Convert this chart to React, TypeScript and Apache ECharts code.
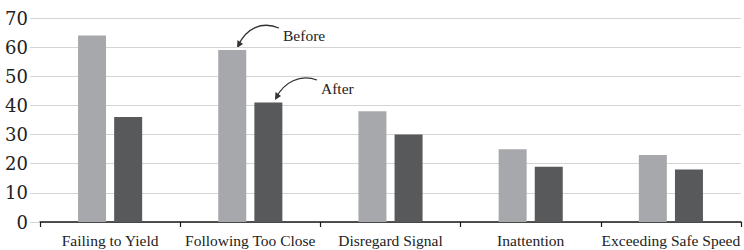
import React, { useEffect, useRef } from "react";
import * as echarts from "echarts";

const categories = ["Failing to Yield", "Following Too Close", "Disregard Signal", "Inattention", "Exceeding Safe Speed"];
const beforeValues = [64, 59, 38, 25, 23];
const afterValues = [36, 41, 30, 19, 18];
const yTicks = { min: 0, max: 70, interval: 10 };

const FONT = "Liberation Serif";
const NUMFONT = "DejaVu Serif";
const GRID = "#d4d4d4";
const LIGHT = "#a7a8ab";
const DARK = "#58595b";

export default function App() {
  const ref = useRef<HTMLDivElement>(null);
  useEffect(() => {
    if (!ref.current) return;
    const chart = echarts.init(ref.current, null, { renderer: "svg" });
    chart.setOption({
      animation: false,
      backgroundColor: "#ffffff",
      grid: { left: 40, right: 3, top: 18, bottom: 28, containLabel: false },
      xAxis: {
        type: "category",
        data: categories,
        axisLine: { show: true, lineStyle: { color: "#1a1a1a", width: 1.5 } },
        axisTick: { show: true, length: 5, lineStyle: { color: "#1a1a1a", width: 1.2 } },
        axisLabel: { color: "#222", fontFamily: FONT, fontSize: 15.5, margin: 10, interval: 0 },
        splitLine: { show: false },
      },
      yAxis: {
        type: "value",
        min: yTicks.min,
        max: yTicks.max,
        interval: yTicks.interval,
        axisLine: { show: false },
        axisTick: { show: true, length: 10, lineStyle: { color: GRID, width: 1 } },
        axisLabel: { color: "#222", fontFamily: NUMFONT, fontSize: 18, margin: 12 },
        splitLine: { show: true, lineStyle: { color: GRID, width: 1 } },
      },
      series: [
        {
          name: "Before",
          type: "bar",
          data: beforeValues,
          barWidth: 28,
          barGap: "29%",
          itemStyle: { color: LIGHT },
        },
        {
          name: "After",
          type: "bar",
          data: afterValues,
          barWidth: 28,
          barGap: "29%",
          itemStyle: { color: DARK },
        },
      ],
      graphic: [
        {
          type: "bezierCurve",
          shape: { x1: 279, y1: 28, cpx1: 262, cpy1: 21, cpx2: 246, cpy2: 28, x2: 238, y2: 46 },
          style: { stroke: "#333", lineWidth: 1.3, fill: null },
        },
        {
          type: "polygon",
          shape: { points: [[237, 48], [237.5, 40], [243, 44]] },
          style: { fill: "#333" },
        },
        {
          type: "text",
          x: 283,
          y: 35,
          style: { text: "Before", font: `15.5px '${FONT}'`, fill: "#222", verticalAlign: "middle" },
        },
        {
          type: "bezierCurve",
          shape: { x1: 317, y1: 80, cpx1: 300, cpy1: 74, cpx2: 284, cpy2: 82, x2: 276, y2: 98 },
          style: { stroke: "#333", lineWidth: 1.3, fill: null },
        },
        {
          type: "polygon",
          shape: { points: [[275, 100], [275.5, 92], [281, 96]] },
          style: { fill: "#333" },
        },
        {
          type: "text",
          x: 321,
          y: 88,
          style: { text: "After", font: `15.5px '${FONT}'`, fill: "#222", verticalAlign: "middle" },
        },
      ],
    });
    return () => chart.dispose();
  }, []);
  return <div ref={ref} style={{ position: "fixed", left: 0, top: 0, width: 744, height: 250 }} />;
}
